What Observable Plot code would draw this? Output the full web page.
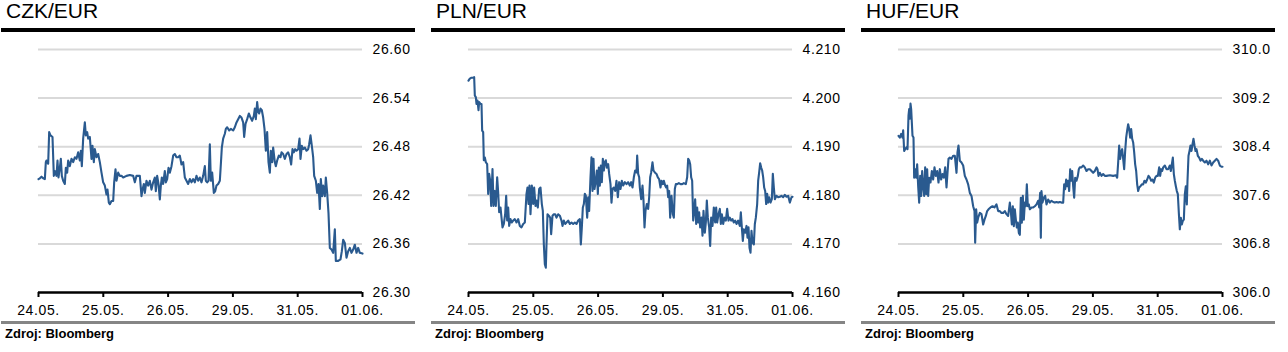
<!DOCTYPE html>
<html><head><meta charset="utf-8">
<script src="https://cdn.jsdelivr.net/npm/d3@7"></script>
<script src="https://cdn.jsdelivr.net/npm/@observablehq/plot@0.6"></script>
<style>
body{margin:0;background:#fff;font-family:"Liberation Sans",Arial,sans-serif;}
#wrap{position:relative;width:1288px;height:352px;overflow:hidden;}
.panel{position:absolute;top:0;width:416px;height:352px;}
.title{position:absolute;left:6px;top:0px;font-size:21px;line-height:21px;color:#000;white-space:nowrap;}
.rule{position:absolute;left:1px;width:414px;top:28px;height:4px;background:#000;}
.chart{position:absolute;left:0;top:34px;}
.grule{position:absolute;left:1px;width:414px;top:321px;height:3px;background:#858585;}
.src{position:absolute;left:5px;top:326px;font-size:13px;line-height:15px;font-weight:bold;color:#000;white-space:nowrap;}
</style>
</head><body><div id="wrap"></div>
<script>
// observation counter (trading ticks) runs from 6 to 978
const T0 = 6, T1 = 978;
const dayLabels = ["24.05.", "25.05.", "26.05.", "29.05.", "31.05.", "01.06."];
const titles = ["CZK/EUR", "PLN/EUR", "HUF/EUR"];
const source = "Zdroj: Bloomberg";

const czkTicks = [26.30, 26.36, 26.42, 26.48, 26.54, 26.60];
const plnTicks = [4.160, 4.170, 4.180, 4.190, 4.200, 4.210];
const hufTicks = [306.0, 306.8, 307.6, 308.4, 309.2, 310.0];

const czk = [[6,26.440],[10,26.441],[15,26.443],[20,26.441],[25,26.440],[28,26.461],[30,26.463],[35,26.459],[38,26.498],[42,26.494],[48,26.492],[52,26.444],[55,26.450],[60,26.444],[63,26.463],[66,26.442],[70,26.454],[73,26.465],[76,26.444],[80,26.438],[85,26.434],[88,26.454],[92,26.448],[95,26.463],[100,26.456],[105,26.465],[110,26.461],[115,26.467],[120,26.465],[125,26.473],[130,26.463],[133,26.475],[136,26.456],[140,26.490],[145,26.510],[148,26.494],[152,26.498],[155,26.490],[160,26.492],[165,26.465],[168,26.481],[172,26.461],[175,26.477],[180,26.467],[185,26.471],[190,26.461],[195,26.448],[200,26.436],[205,26.432],[210,26.421],[213,26.427],[217,26.411],[220,26.409],[225,26.413],[230,26.413],[233,26.436],[237,26.452],[240,26.438],[245,26.448],[250,26.444],[255,26.444],[260,26.442],[270,26.444],[280,26.445],[290,26.444],[295,26.436],[300,26.444],[305,26.444],[310,26.444],[315,26.419],[318,26.427],[322,26.434],[325,26.423],[330,26.438],[335,26.432],[340,26.438],[345,26.427],[350,26.436],[355,26.442],[358,26.425],[362,26.444],[366,26.434],[370,26.415],[373,26.432],[376,26.442],[380,26.434],[385,26.450],[388,26.436],[392,26.440],[396,26.454],[400,26.448],[405,26.456],[410,26.469],[415,26.471],[420,26.467],[425,26.467],[430,26.469],[435,26.458],[440,26.461],[445,26.442],[450,26.438],[455,26.434],[460,26.440],[465,26.436],[470,26.440],[475,26.436],[480,26.444],[485,26.438],[490,26.442],[495,26.436],[500,26.444],[505,26.456],[508,26.438],[512,26.436],[516,26.438],[520,26.483],[523,26.438],[527,26.448],[532,26.423],[536,26.425],[540,26.432],[545,26.434],[550,26.438],[553,26.458],[556,26.479],[560,26.490],[565,26.496],[568,26.502],[572,26.504],[578,26.500],[583,26.502],[590,26.500],[595,26.504],[600,26.510],[605,26.514],[610,26.518],[615,26.516],[620,26.510],[623,26.492],[627,26.508],[632,26.514],[637,26.521],[642,26.516],[647,26.512],[652,26.518],[655,26.527],[658,26.514],[662,26.535],[665,26.523],[668,26.521],[672,26.527],[676,26.525],[680,26.516],[684,26.502],[688,26.475],[692,26.498],[696,26.461],[700,26.448],[703,26.475],[707,26.461],[710,26.479],[715,26.461],[718,26.456],[722,26.463],[727,26.469],[732,26.467],[735,26.473],[740,26.471],[745,26.465],[750,26.471],[755,26.473],[760,26.467],[764,26.458],[768,26.477],[772,26.473],[776,26.477],[780,26.475],[785,26.477],[789,26.490],[792,26.465],[796,26.481],[800,26.477],[805,26.479],[810,26.475],[815,26.477],[818,26.483],[822,26.494],[826,26.481],[830,26.467],[833,26.444],[838,26.438],[842,26.423],[846,26.434],[850,26.403],[853,26.440],[857,26.419],[860,26.432],[865,26.419],[868,26.442],[872,26.423],[876,26.398],[880,26.355],[885,26.353],[890,26.349],[895,26.378],[898,26.339],[905,26.339],[912,26.341],[916,26.351],[920,26.365],[925,26.361],[930,26.343],[935,26.351],[940,26.355],[945,26.349],[950,26.353],[955,26.359],[960,26.349],[965,26.355],[970,26.349],[978,26.348]];

const pln = [[6,4.2036],[10,4.2040],[15,4.2042],[20,4.2042],[23,4.2043],[25,4.2005],[28,4.2002],[30,4.1988],[33,4.1995],[36,4.1975],[38,4.1992],[42,4.1988],[45,4.1988],[47,4.1933],[50,4.1930],[52,4.1872],[55,4.1878],[58,4.1868],[62,4.1864],[65,4.1803],[68,4.1844],[71,4.1830],[74,4.1778],[78,4.1854],[81,4.1778],[85,4.1809],[88,4.1778],[92,4.1837],[95,4.1806],[98,4.1765],[102,4.1775],[105,4.1754],[108,4.1734],[112,4.1741],[116,4.1761],[119,4.1799],[122,4.1748],[125,4.1775],[128,4.1737],[132,4.1751],[136,4.1744],[140,4.1748],[145,4.1751],[150,4.1744],[155,4.1751],[160,4.1737],[165,4.1734],[170,4.1741],[175,4.1744],[180,4.1803],[183,4.1816],[186,4.1782],[189,4.1820],[192,4.1761],[196,4.1820],[200,4.1782],[203,4.1816],[207,4.1778],[210,4.1789],[214,4.1775],[218,4.1813],[222,4.1816],[226,4.1782],[229,4.1768],[232,4.1699],[235,4.1658],[238,4.1651],[240,4.1699],[243,4.1761],[247,4.1758],[251,4.1754],[254,4.1720],[258,4.1758],[262,4.1761],[266,4.1761],[270,4.1754],[275,4.1761],[280,4.1758],[285,4.1748],[288,4.1737],[292,4.1748],[296,4.1741],[300,4.1744],[305,4.1748],[310,4.1741],[315,4.1744],[320,4.1741],[325,4.1744],[330,4.1741],[335,4.1748],[340,4.1751],[343,4.1699],[346,4.1734],[349,4.1775],[352,4.1782],[355,4.1803],[358,4.1799],[362,4.1754],[365,4.1796],[368,4.1768],[372,4.1837],[375,4.1878],[378,4.1809],[381,4.1875],[384,4.1813],[388,4.1830],[391,4.1851],[394,4.1803],[397,4.1857],[400,4.1820],[403,4.1861],[406,4.1827],[409,4.1875],[412,4.1851],[415,4.1868],[418,4.1872],[421,4.1857],[425,4.1864],[428,4.1844],[432,4.1823],[435,4.1785],[438,4.1813],[442,4.1816],[446,4.1809],[450,4.1830],[454,4.1796],[458,4.1827],[462,4.1813],[466,4.1830],[470,4.1820],[475,4.1827],[480,4.1823],[485,4.1827],[490,4.1820],[494,4.1827],[498,4.1816],[502,4.1837],[506,4.1851],[510,4.1847],[512,4.1882],[515,4.1844],[518,4.1837],[520,4.1816],[524,4.1792],[528,4.1820],[531,4.1789],[534,4.1734],[537,4.1768],[541,4.1782],[545,4.1772],[548,4.1796],[551,4.1837],[554,4.1847],[558,4.1868],[561,4.1851],[565,4.1847],[570,4.1844],[574,4.1837],[578,4.1833],[582,4.1816],[585,4.1830],[589,4.1823],[592,4.1830],[596,4.1820],[599,4.1816],[602,4.1820],[605,4.1796],[608,4.1809],[611,4.1754],[615,4.1799],[619,4.1761],[622,4.1754],[625,4.1813],[628,4.1823],[632,4.1823],[637,4.1825],[642,4.1823],[647,4.1823],[652,4.1825],[658,4.1823],[662,4.1837],[665,4.1875],[668,4.1872],[671,4.1864],[674,4.1837],[677,4.1830],[680,4.1748],[683,4.1768],[686,4.1792],[689,4.1741],[692,4.1775],[695,4.1744],[698,4.1765],[701,4.1734],[705,4.1754],[708,4.1717],[711,4.1768],[715,4.1723],[718,4.1744],[721,4.1789],[724,4.1754],[728,4.1734],[731,4.1696],[734,4.1754],[738,4.1737],[742,4.1775],[746,4.1744],[749,4.1775],[752,4.1744],[756,4.1761],[760,4.1772],[763,4.1741],[766,4.1761],[770,4.1741],[774,4.1754],[778,4.1748],[782,4.1772],[786,4.1748],[790,4.1754],[794,4.1748],[798,4.1751],[802,4.1744],[806,4.1748],[810,4.1741],[815,4.1748],[820,4.1737],[823,4.1765],[826,4.1734],[829,4.1706],[832,4.1730],[836,4.1723],[840,4.1737],[843,4.1713],[846,4.1734],[849,4.1692],[852,4.1682],[855,4.1727],[858,4.1703],[862,4.1699],[865,4.1741],[868,4.1754],[872,4.1782],[875,4.1830],[878,4.1847],[881,4.1866],[884,4.1857],[887,4.1851],[890,4.1837],[893,4.1816],[896,4.1809],[899,4.1782],[902,4.1803],[905,4.1785],[908,4.1796],[912,4.1785],[916,4.1792],[919,4.1844],[922,4.1816],[925,4.1792],[930,4.1799],[935,4.1796],[940,4.1797],[945,4.1799],[950,4.1796],[955,4.1801],[960,4.1797],[965,4.1799],[970,4.1785],[975,4.1796],[978,4.1797]];

const huf = [[6,308.58],[10,308.55],[14,308.61],[18,308.55],[20,308.67],[23,308.33],[26,308.36],[30,308.39],[33,308.36],[36,308.91],[38,309.02],[40,308.86],[42,309.11],[44,309.02],[46,308.80],[48,308.58],[51,308.55],[53,307.89],[56,308.03],[59,307.89],[62,308.11],[65,307.75],[68,307.48],[71,307.92],[74,307.59],[77,308.00],[80,307.75],[83,307.59],[86,308.06],[89,307.62],[92,308.03],[95,307.59],[98,307.89],[102,307.81],[106,308.00],[110,307.86],[114,308.06],[118,307.92],[122,308.00],[126,307.81],[130,308.03],[134,307.86],[138,307.95],[142,307.89],[146,308.06],[150,307.73],[153,307.97],[156,308.20],[160,308.22],[165,308.20],[170,308.25],[175,308.25],[180,307.97],[183,308.31],[186,308.42],[190,308.17],[195,308.14],[200,308.09],[205,307.92],[210,307.86],[215,307.78],[220,307.64],[225,307.59],[230,307.42],[234,307.34],[236,306.82],[239,307.37],[242,307.15],[245,307.23],[250,307.31],[255,307.29],[260,307.12],[264,307.20],[268,307.26],[272,307.34],[276,307.37],[282,307.40],[288,307.42],[294,307.40],[300,307.45],[305,307.34],[310,307.34],[315,307.31],[320,307.31],[325,307.34],[330,307.29],[335,307.26],[340,307.48],[343,307.34],[346,307.12],[349,307.42],[352,307.09],[355,307.37],[358,307.20],[361,307.07],[364,307.15],[367,306.98],[370,306.95],[373,307.56],[376,307.15],[379,307.59],[382,307.20],[385,307.48],[388,307.42],[391,307.78],[394,307.42],[397,307.45],[400,307.37],[405,307.40],[410,307.40],[415,307.42],[420,307.45],[425,307.51],[428,307.40],[431,307.64],[433,306.90],[435,307.67],[438,307.48],[442,307.56],[446,307.59],[450,307.45],[455,307.53],[460,307.48],[465,307.51],[470,307.49],[475,307.48],[480,307.49],[485,307.48],[490,307.49],[495,307.48],[500,307.48],[503,307.78],[506,307.70],[509,307.86],[512,307.75],[515,307.84],[518,307.67],[521,308.03],[524,307.84],[527,308.00],[530,307.75],[533,307.56],[536,307.89],[540,307.84],[544,307.92],[547,308.03],[550,308.06],[555,308.06],[560,308.09],[565,308.06],[570,308.00],[575,308.03],[580,308.03],[585,308.00],[590,307.97],[595,308.00],[600,308.06],[603,308.03],[606,307.92],[610,307.97],[615,307.92],[620,307.95],[625,307.92],[630,307.92],[640,307.93],[650,307.92],[658,307.93],[662,307.89],[665,308.14],[668,308.42],[671,308.20],[674,308.31],[677,308.36],[680,308.20],[683,308.03],[686,308.33],[689,308.55],[692,308.67],[695,308.77],[698,308.69],[701,308.55],[704,308.69],[707,308.53],[710,308.47],[713,308.31],[716,308.11],[719,308.00],[722,307.78],[725,307.67],[728,307.73],[732,307.75],[736,307.78],[740,307.78],[744,307.84],[748,307.81],[752,307.86],[756,307.92],[760,307.89],[764,307.84],[768,307.86],[772,307.81],[776,307.89],[780,307.92],[784,307.92],[788,308.06],[791,307.92],[794,308.03],[797,308.00],[800,308.06],[805,308.09],[810,308.03],[815,308.03],[820,308.09],[823,308.00],[826,308.11],[829,308.22],[832,307.95],[835,307.84],[838,307.75],[841,307.67],[844,307.62],[847,307.31],[850,307.04],[853,307.23],[856,307.12],[859,307.18],[862,307.20],[865,307.62],[868,307.75],[871,307.45],[873,307.84],[876,308.25],[879,308.33],[882,308.42],[885,308.33],[888,308.44],[891,308.53],[894,308.42],[897,308.33],[900,308.36],[904,308.25],[908,308.22],[912,308.17],[916,308.20],[920,308.17],[925,308.14],[930,308.17],[935,308.11],[940,308.17],[945,308.09],[950,308.14],[955,308.17],[960,308.20],[965,308.17],[970,308.09],[975,308.07],[978,308.07]];

const panels = [
  {title: titles[0], data: czk, ticks: czkTicks, fmt: d3.format(".2f")},
  {title: titles[1], data: pln, ticks: plnTicks, fmt: d3.format(".3f")},
  {title: titles[2], data: huf, ticks: hufTicks, fmt: d3.format(".1f")}
];
const lefts = [0, 430, 860];

const wrap = document.getElementById("wrap");
const xTicks = dayLabels.map((d, i) => T0 + i * (T1 - T0) / (dayLabels.length - 1));
const xLabel = new Map(xTicks.map((t, i) => [t, dayLabels[i]]));

panels.forEach((p, k) => {
  const div = document.createElement("div");
  div.className = "panel";
  div.style.left = lefts[k] + "px";
  div.innerHTML = `<div class="title"></div><div class="rule"></div><div class="chart"></div><div class="grule"></div><div class="src"></div>`;
  div.querySelector(".title").textContent = p.title;
  div.querySelector(".src").textContent = source;
  const rows = p.data.map(([t, v]) => ({t, v}));
  const chart = Plot.plot({
    width: 416,
    height: 286,
    marginTop: 15,
    marginBottom: 28,
    marginLeft: 38,
    marginRight: 54,
    x: {domain: [T0, T1]},
    y: {domain: [p.ticks[0], p.ticks[p.ticks.length - 1]]},
    style: {fontFamily: "'Liberation Sans', Arial, sans-serif", fontSize: "14px", color: "#000", background: "transparent", letterSpacing: "0.6px"},
    marks: [
      Plot.ruleY(p.ticks.slice(1), {stroke: "#d9d9d9", strokeWidth: 2}),
      Plot.axisY(p.ticks, {anchor: "right", tickSize: 0, tickPadding: 10, tickFormat: p.fmt, label: null, fill: "#000"}),
      Plot.line(rows, {x: "t", y: "v", stroke: "#2a5a8f", strokeWidth: 2.1}),
      Plot.ruleY([p.ticks[0]], {stroke: "#000", strokeWidth: 2.5}),
      Plot.axisX(xTicks, {anchor: "bottom", tickSize: 5, tickPadding: 8, strokeWidth: 2, stroke: "#000", tickFormat: d => xLabel.get(d), label: null, fill: "#000"})
    ]
  });
  div.querySelector(".chart").appendChild(chart);
  wrap.appendChild(div);
});
</script>
</body></html>
